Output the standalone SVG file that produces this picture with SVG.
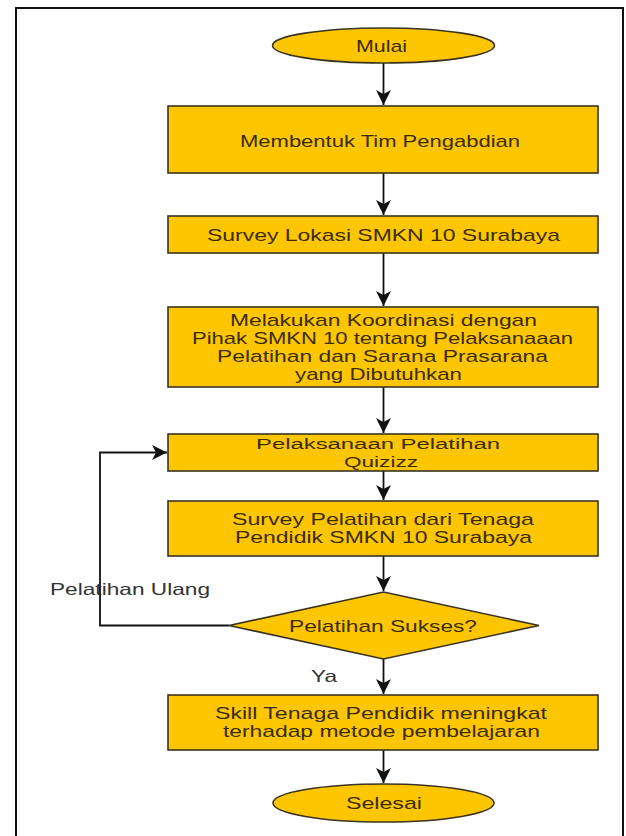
<svg xmlns="http://www.w3.org/2000/svg" width="626" height="836" viewBox="0 0 626 836">
<style>
.nd{fill:#FDC600;stroke:#3a3320;stroke-width:1.6}
.t{font-family:"Liberation Sans",Arial,sans-serif;font-size:17px;fill:#3a2c05}
.ts{font-size:15.5px}
.lb{font-family:"Liberation Sans",Arial,sans-serif;font-size:16.5px;fill:#333}
.cn{fill:none;stroke:#111;stroke-width:1.8}
</style>
<defs>
<marker id="ah" markerUnits="userSpaceOnUse" markerWidth="18" markerHeight="18" refX="15" refY="9" orient="auto">
<path d="M0,1.5 L15,9 L0,16.5 L4,9 z" fill="#111"/>
</marker>
</defs>
<rect x="16" y="8" width="607" height="840" fill="#fff" stroke="#111" stroke-width="2"/>
<g id="connectors">
<line class="cn" x1="383.5" y1="63" x2="383.5" y2="105" marker-end="url(#ah)"/>
<line class="cn" x1="383.5" y1="173" x2="383.5" y2="215" marker-end="url(#ah)"/>
<line class="cn" x1="383.5" y1="253" x2="383.5" y2="306" marker-end="url(#ah)"/>
<line class="cn" x1="383.5" y1="387" x2="383.5" y2="433" marker-end="url(#ah)"/>
<line class="cn" x1="383.5" y1="471" x2="383.5" y2="500" marker-end="url(#ah)"/>
<line class="cn" x1="383.5" y1="556" x2="383.5" y2="591" marker-end="url(#ah)"/>
<line class="cn" x1="383.5" y1="659" x2="383.5" y2="694" marker-end="url(#ah)"/>
<line class="cn" x1="383.5" y1="750" x2="383.5" y2="783" marker-end="url(#ah)"/>
<polyline class="cn" points="229,625.5 100,625.5 100,452.5 167,452.5" marker-end="url(#ah)"/>
<text class="lb" x="50" y="595" textLength="160" lengthAdjust="spacingAndGlyphs">Pelatihan Ulang</text>
<text class="lb" x="311" y="682" textLength="26" lengthAdjust="spacingAndGlyphs">Ya</text>
</g>
<g id="mulai">
<ellipse class="nd" cx="383.5" cy="45.5" rx="111" ry="17.5"/>
<text class="t" x="356" y="51.5" textLength="51" lengthAdjust="spacingAndGlyphs">Mulai</text>
</g>
<g id="membentuk">
<rect class="nd" x="168" y="106" width="430" height="67"/>
<text class="t" x="240" y="146.5" textLength="280" lengthAdjust="spacingAndGlyphs">Membentuk Tim Pengabdian</text>
</g>
<g id="survey-lokasi">
<rect class="nd" x="168" y="216" width="430" height="37"/>
<text class="t" x="207" y="240.5" textLength="353" lengthAdjust="spacingAndGlyphs">Survey Lokasi SMKN 10 Surabaya</text>
</g>
<g id="koordinasi">
<rect class="nd" x="168" y="307" width="430" height="80"/>
<text class="t" x="230" y="326" textLength="307" lengthAdjust="spacingAndGlyphs">Melakukan Koordinasi dengan</text>
<text class="t" x="192" y="344" textLength="381" lengthAdjust="spacingAndGlyphs">Pihak SMKN 10 tentang Pelaksanaaan</text>
<text class="t" x="217" y="362" textLength="331" lengthAdjust="spacingAndGlyphs">Pelatihan dan Sarana Prasarana</text>
<text class="t" x="295" y="380" textLength="167" lengthAdjust="spacingAndGlyphs">yang Dibutuhkan</text>
</g>
<g id="pelaksanaan">
<rect class="nd" x="168" y="434" width="430" height="37"/>
<text class="t ts" x="256" y="449" textLength="244" lengthAdjust="spacingAndGlyphs">Pelaksanaan Pelatihan</text>
<text class="t ts" x="344" y="467" textLength="74" lengthAdjust="spacingAndGlyphs">Quizizz</text>
</g>
<g id="survey-pelatihan">
<rect class="nd" x="168" y="501" width="430" height="55"/>
<text class="t" x="232" y="525" textLength="302" lengthAdjust="spacingAndGlyphs">Survey Pelatihan dari Tenaga</text>
<text class="t" x="235" y="543" textLength="297" lengthAdjust="spacingAndGlyphs">Pendidik SMKN 10 Surabaya</text>
</g>
<g id="sukses">
<polygon class="nd" points="383.5,592 539,625.5 383.5,659 229,625.5"/>
<text class="t" x="289" y="632" textLength="188" lengthAdjust="spacingAndGlyphs">Pelatihan Sukses?</text>
</g>
<g id="skill">
<rect class="nd" x="168" y="695" width="430" height="55"/>
<text class="t" x="215" y="719" textLength="332" lengthAdjust="spacingAndGlyphs">Skill Tenaga Pendidik meningkat</text>
<text class="t" x="223" y="737" textLength="317" lengthAdjust="spacingAndGlyphs">terhadap metode pembelajaran</text>
</g>
<g id="selesai">
<ellipse class="nd" cx="383.5" cy="803" rx="110.5" ry="19"/>
<text class="t" x="346" y="809" textLength="76" lengthAdjust="spacingAndGlyphs">Selesai</text>
</g>
</svg>
